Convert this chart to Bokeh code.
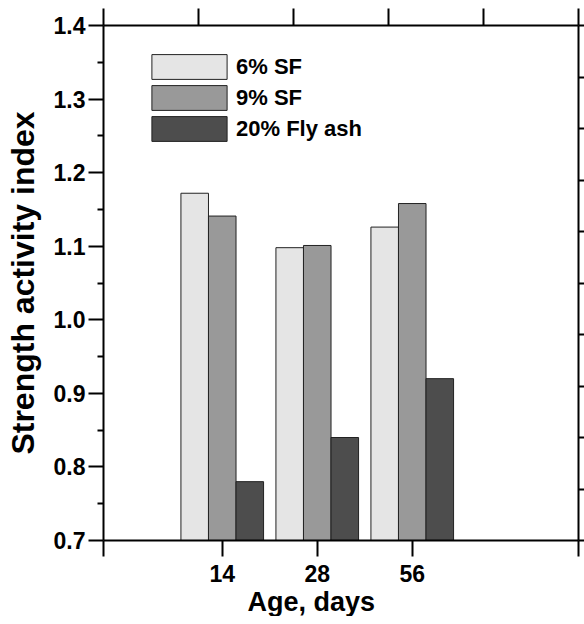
import numpy as np
from bokeh.plotting import figure
from bokeh.models import Range1d, LinearAxis, FixedTicker, Legend, LegendItem, PrintfTickFormatter, Title
from bokeh.embed import file_html
from bokeh.resources import INLINE

ages = ["14", "28", "56"]
sf6 = [1.172, 1.098, 1.126]
sf9 = [1.141, 1.101, 1.158]
flyash = [0.780, 0.840, 0.920]
series_names = ["6% SF", "9% SF", "20% Fly ash"]
series_colors = ["#e5e5e5", "#999999", "#4d4d4d"]
y_ticks = [0.7, 0.8, 0.9, 1.0, 1.1, 1.2, 1.3, 1.4]
y_minor = [0.75, 0.85, 0.95, 1.05, 1.15, 1.25, 1.35]

FONT = "Liberation Sans"
xpos = np.arange(len(ages)) + 1.25
bar_w = 0.29

p = figure(frame_width=475, frame_height=515,
           x_range=Range1d(0, 5), y_range=Range1d(0.7, 1.4),
           output_backend="svg", toolbar_location=None,
           min_border_left=103, min_border_top=25, min_border_right=6, min_border_bottom=0)
p.xgrid.visible = False
p.ygrid.visible = False
p.outline_line_color = None
p.background_fill_color = "white"
p.border_fill_color = "white"

renderers = []
for k, (vals, col) in enumerate(zip([sf6, sf9, flyash], series_colors)):
    r = p.vbar(x=xpos + (k - 1) * bar_w, top=vals, bottom=0.7, width=bar_w,
               fill_color=col, line_color="#222222", line_width=1)
    renderers.append(r)

# bottom axis
xa = p.xaxis[0]
xa.ticker = FixedTicker(ticks=[0.0] + list(xpos) + [5.0], minor_ticks=[])
overrides = {0.0: "", 5.0: ""}
for xp, a in zip(xpos, ages):
    overrides[float(xp)] = a
xa.major_label_overrides = overrides

# left axis
ya = p.yaxis[0]
ya.ticker = FixedTicker(ticks=y_ticks, minor_ticks=y_minor)
ya.formatter = PrintfTickFormatter(format="%.1f")
ya.axis_label = "Strength activity index"

for ax in (xa, ya):
    ax.axis_line_width = 2
    ax.axis_line_color = "black"
    ax.major_tick_line_width = 2
    ax.minor_tick_line_width = 2
    ax.major_tick_in = 0
    ax.minor_tick_in = 0
    ax.major_label_text_font = FONT
    ax.major_label_text_font_style = "bold"
    ax.major_label_text_font_size = "23px"
    ax.major_label_text_color = "black"
    ax.axis_label_text_font = FONT
    ax.axis_label_text_font_style = "bold"
    ax.axis_label_text_color = "black"

xa.major_tick_out = 16
xa.major_label_standoff = 8
ya.major_tick_out = 15
ya.minor_tick_out = 6
ya.major_label_standoff = 3
ya.axis_label_text_font_size = "32px"
ya.axis_label_standoff = 10

# x axis title, placed like the original (left of the frame centre)
xt = Title(text="Age, days", align="left", offset=144, standoff=0,
           text_font=FONT, text_font_style="bold", text_font_size="27px",
           text_color="black")
p.add_layout(xt, "below")

# top axis
top = LinearAxis(ticker=FixedTicker(ticks=[0, 1, 2, 3, 4, 5], minor_ticks=[]),
                 major_label_text_font_size="0px", major_label_standoff=0,
                 axis_line_width=2, major_tick_line_width=2,
                 major_tick_in=0, major_tick_out=17)
top.major_label_overrides = {i: "" for i in range(6)}
p.add_layout(top, "above")

# right axis (separate scale, 10 intervals)
p.extra_y_ranges = {"right": Range1d(0, 10)}
right = LinearAxis(y_range_name="right",
                   ticker=FixedTicker(ticks=list(range(11)), minor_ticks=[]),
                   major_label_text_font_size="0px", major_label_standoff=0,
                   axis_line_width=2, major_tick_line_width=2,
                   major_tick_in=0, major_tick_out=6)
right.major_label_overrides = {i: "" for i in range(11)}
p.add_layout(right, "right")

legend = Legend(items=[LegendItem(label=n, renderers=[r]) for n, r in zip(series_names, renderers)],
                location=(39, 396), orientation="vertical",
                glyph_width=94, glyph_height=31, spacing=0, padding=0, margin=0,
                label_standoff=-3, label_height=31,
                label_text_font=FONT, label_text_font_style="bold",
                label_text_font_size="22px", label_text_color="black",
                border_line_color=None, background_fill_alpha=0)
p.add_layout(legend, "center")

open("out.html", "w").write(file_html(p, INLINE))
